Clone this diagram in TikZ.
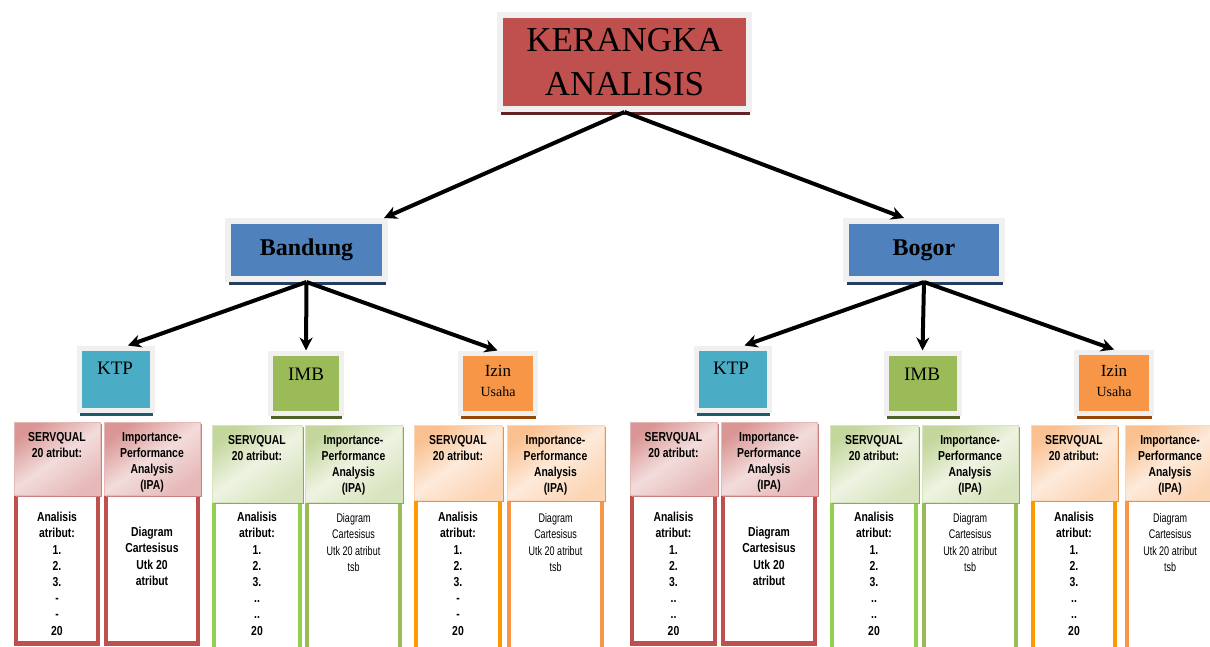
\documentclass[tikz,border=0pt]{standalone}
\usepackage{fontspec}
\setmainfont{Liberation Serif}
\newfontfamily\nsansb[FakeStretch=0.8]{Liberation Sans}
\newfontfamily\nsansr[FakeStretch=0.72]{Liberation Sans}
\usetikzlibrary{arrows.meta,shadows}

\definecolor{frameg}{HTML}{F0F0F0}
\definecolor{cRed}{HTML}{C0504D}
\definecolor{cRedD}{HTML}{632523}
\definecolor{cBlue}{HTML}{4F81BD}
\definecolor{cBlueD}{HTML}{243F60}
\definecolor{cTeal}{HTML}{4BACC6}
\definecolor{cTealD}{HTML}{215968}
\definecolor{cGreen}{HTML}{9BBB59}
\definecolor{cGreenD}{HTML}{4F6228}
\definecolor{cOrange}{HTML}{F79646}
\definecolor{cOrangeD}{HTML}{974806}
% header tints
\definecolor{hR1}{HTML}{D99694}
\definecolor{hR0}{HTML}{F2DCDB}
\definecolor{hR2}{HTML}{E6B9B8}
\definecolor{hRd}{HTML}{C9817F}
\definecolor{hG1}{HTML}{C3D69B}
\definecolor{hG0}{HTML}{EEF3E2}
\definecolor{hG2}{HTML}{D7E4BD}
\definecolor{hGd}{HTML}{8DA85A}
\definecolor{hO1}{HTML}{FAC090}
\definecolor{hO0}{HTML}{FDEADA}
\definecolor{hO2}{HTML}{FCD5B5}
\definecolor{hOd}{HTML}{E0955A}
% lower borders
\definecolor{lGreenS}{HTML}{92D050}
\definecolor{lOrangeS}{HTML}{FF9900}

\def\yAred{422}\def\yBred{495}\def\yCred{527}\def\yDred{643.5}
\def\yAgreen{425}\def\yBgreen{502}\def\yCgreen{513}\def\yDgreen{650}
\def\yAorange{425}\def\yBorange{500}\def\yCorange{513}\def\yDorange{650}

\tikzset{
  lvl/.style 2 args={rectangle, inner sep=0pt, fill=#1, draw=frameg,
     drop shadow={shadow xshift=0.5pt, shadow yshift=-6pt, fill=#2, opacity=1}},
  arr/.style={-{Stealth[length=13pt,width=13pt]}, line width=4pt, black},
  hdbase/.style={rectangle, inner sep=0pt, draw=#1, line width=0.6pt},
  hdred/.style={hdbase=hR2, top color=hR1, bottom color=hR2, middle color=hR0, shading angle=35,
     drop shadow={shadow xshift=1.5pt, shadow yshift=-1.5pt, fill=hRd, opacity=1}},
  hdgreen/.style={hdbase=hG2, top color=hG1, bottom color=hG2, middle color=hG0, shading angle=35,
     drop shadow={shadow xshift=1.5pt, shadow yshift=-1.5pt, fill=hGd, opacity=1}},
  hdorange/.style={hdbase=hO2, top color=hO1, bottom color=hO2, middle color=hO0, shading angle=35,
     drop shadow={shadow xshift=1.5pt, shadow yshift=-1.5pt, fill=hOd, opacity=1}},
  lwbase/.style={rectangle, inner sep=0pt, fill=white, line width=4.5pt, draw=#1},
  lwSred/.style={lwbase=cRed}, lwIred/.style={lwbase=cRed},
  lwSgreen/.style={lwbase=lGreenS}, lwIgreen/.style={lwbase=cGreen},
  lwSorange/.style={lwbase=lOrangeS}, lwIorange/.style={lwbase=cOrange},
  hdtxt/.style={font=\nsansb\bfseries\fontsize{13}{16}\selectfont, align=center, inner sep=0pt, anchor=north},
  lotxt/.style={font=\nsansb\bfseries\fontsize{13}{16.2}\selectfont, align=center, inner sep=0pt, anchor=north},
  lotxtR/.style={font=\nsansr\fontsize{12.5}{16.5}\selectfont, align=center, inner sep=0pt, anchor=north},
  ipared/.style={lotxt, node contents={Diagram\\Cartesisus\\Utk 20\\atribut}},
  ipagreen/.style={lotxtR, node contents={Diagram\\Cartesisus\\Utk 20 atribut\\tsb}},
  ipaorange/.style={lotxtR, node contents={Diagram\\Cartesisus\\Utk 20 atribut\\tsb}},
  boxtxt/.style={inner sep=0pt, anchor=north, align=center},
}

% #1 name, #2 Sx1, #3 Sx2, #4 Ix1, #5 Ix2, #6 colour key, #7 list filler
\newcommand{\grp}[7]{%
  \edef\grpYa{\csname yA#6\endcsname}%
  \edef\grpYb{\csname yB#6\endcsname}%
  \edef\grpYc{\csname yC#6\endcsname}%
  \edef\grpYd{\csname yD#6\endcsname}%
  \node[lwS#6, minimum width={#3-#2-4}, minimum height={\grpYd-\grpYb}] (#1sl)
     at ({(#2+#3)/2},{(\grpYb+\grpYd)/2}) {};
  \node[lwI#6, minimum width={#5-#4-4}, minimum height={\grpYd-\grpYb}] (#1il)
     at ({(#4+#5)/2},{(\grpYb+\grpYd)/2}) {};
  \node[hd#6, minimum width={#3-#2}, minimum height={\grpYb-\grpYa}] (#1sh)
     at ({(#2+#3)/2},{(\grpYa+\grpYb)/2}) {};
  \node[hd#6, minimum width={#5-#4}, minimum height={\grpYb-\grpYa}] (#1ih)
     at ({(#4+#5)/2},{(\grpYa+\grpYb)/2}) {};
  \node[hdtxt] (#1st) at ({(#2+#3)/2},{\grpYa+10}) {SERVQUAL\\20 atribut:};
  \node[hdtxt] (#1it) at ({(#4+#5)/2},{\grpYa+10}) {Importance-\\Performance\\Analysis\\(IPA)};
  \node[lotxt] (#1sx) at ({(#2+#3)/2},512) {Analisis\\atribut:\\1.\\2.\\3.\\#7\\#7\\20};
  \node[name=#1ix, at={({(#4+#5)/2},{\grpYc})}, ipa#6];
}

\begin{document}
\begin{tikzpicture}[x=1pt,y=-1pt]
\useasboundingbox (0,0) rectangle (1210,646);
\fill[white] (0,0) rectangle (1210,646);

% bottom groups
\grp{ga}{14}{100}{104}{200}{red}{-}
\grp{gb}{212}{302}{305}{402}{green}{..}
\grp{gc}{414}{502}{507}{604}{orange}{-}
\grp{gd}{630}{717}{721}{817}{red}{..}
\grp{ge}{830}{918}{922}{1018}{green}{..}
\grp{gf}{1031}{1117}{1125}{1215}{orange}{..}

% top node
\node[lvl={cRed}{cRedD}, line width=6pt, minimum width=249, minimum height=94,
      align=center, font=\fontsize{35}{44}\selectfont] (top) at (624.5,62) {KERANGKA\\ANALISIS};

% cities
\node[lvl={cBlue}{cBlueD}, line width=6pt, minimum width=157, minimum height=58,
      font=\bfseries\fontsize{24}{28}\selectfont] (band) at (306.5,250) {Bandung};
\node[lvl={cBlue}{cBlueD}, line width=6pt, minimum width=156, minimum height=58,
      font=\bfseries\fontsize{24}{28}\selectfont] (bogor) at (924,250) {Bogor};

% services Bandung
\node[lvl={cTeal}{cTealD}, line width=5pt, minimum width=73, minimum height=62] (ktpA) at (116,379) {};
\node[lvl={cGreen}{cGreenD}, line width=5pt, minimum width=71, minimum height=60] (imbA) at (306,383) {};
\node[lvl={cOrange}{cOrangeD}, line width=5pt, minimum width=75, minimum height=60] (izinA) at (497.5,383) {};
% services Bogor
\node[lvl={cTeal}{cTealD}, line width=5pt, minimum width=73, minimum height=62] (ktpB) at (732.5,379) {};
\node[lvl={cGreen}{cGreenD}, line width=5pt, minimum width=73, minimum height=60] (imbB) at (922.5,383) {};
\node[lvl={cOrange}{cOrangeD}, line width=5pt, minimum width=75, minimum height=61] (izinB) at (1114,382.5) {};

% service labels
\node[boxtxt, font=\fontsize{19}{22}\selectfont] (ktpAt) at (115,362) {KTP};
\node[boxtxt, font=\fontsize{19}{22}\selectfont] (imbAt) at (306,368) {IMB};
\node[boxtxt, font=\fontsize{17}{20}\selectfont] (izinAt) at (498,365) {Izin\\{\fontsize{14}{20}\selectfont Usaha}};
\node[boxtxt, font=\fontsize{19}{22}\selectfont] (ktpBt) at (731,362) {KTP};
\node[boxtxt, font=\fontsize{19}{22}\selectfont] (imbBt) at (922,368) {IMB};
\node[boxtxt, font=\fontsize{17}{20}\selectfont] (izinBt) at (1114,365) {Izin\\{\fontsize{14}{20}\selectfont Usaha}};

% connectors
\draw[arr] (top.south) -- ([xshift=-4pt]band.north east);
\draw[arr] (top.south) -- ([xshift=-20pt]bogor.north);
\draw[arr] (band.south) -- ([xshift=12pt]ktpA.north);
\draw[arr] (band.south) -- (imbA.north);
\draw[arr] (band.south) -- (izinA.north);
\draw[arr] (bogor.south) -- ([xshift=12pt]ktpB.north);
\draw[arr] (bogor.south) -- (imbB.north);
\draw[arr] (bogor.south) -- (izinB.north);
\end{tikzpicture}
\end{document}
